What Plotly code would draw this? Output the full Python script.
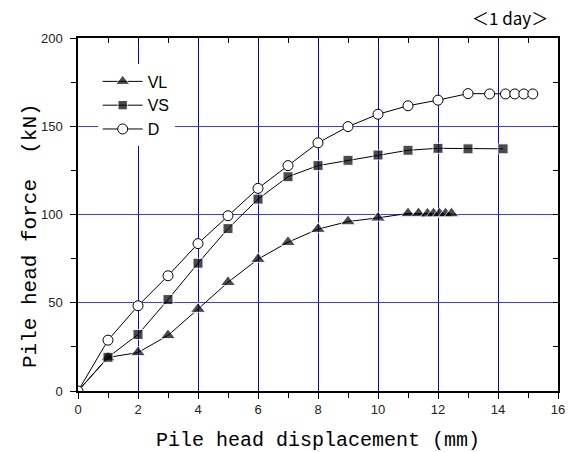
import plotly.graph_objects as go

# ---- data ----
vl_x = [0, 1, 2, 3, 4, 5, 6, 7, 8, 9, 10, 11, 11.35, 11.65, 11.85, 12.05, 12.25, 12.45]
vl_y = [0, 19.0, 21.8, 31.5, 46.4, 61.6, 74.7, 84.3, 91.7, 96.0, 98.1, 100.6, 100.6, 100.4, 100.5, 100.5, 100.5, 100.5]

vs_x = [0, 1, 2, 3, 4, 5, 6, 7, 8, 9, 10, 11, 12, 13, 14.17]
vs_y = [0, 19.1, 32.0, 51.8, 72.4, 92.0, 108.7, 121.4, 127.7, 130.7, 133.7, 136.4, 137.5, 137.2, 137.2]

d_x = [0, 1, 2, 3, 4, 5, 6, 7, 8, 9, 10, 11, 12, 13, 13.72, 14.25, 14.56, 14.86, 15.16]
d_y = [0, 28.8, 48.3, 65.3, 83.5, 99.3, 114.8, 127.7, 140.6, 149.8, 156.8, 161.6, 164.8, 168.5, 168.3, 168.3, 168.3, 168.3, 168.3]

x_range = [0, 16]
y_range = [0, 200]

series = [
    ("VL", vl_x, vl_y, dict(symbol="triangle-up", size=13, color="black")),
    ("VS", vs_x, vs_y, dict(symbol="square", size=10, color="black")),
    ("D", d_x, d_y, dict(symbol="circle", size=10, color="white", line=dict(width=1, color="black"))),
]

fig = go.Figure()
for name, xs, ys, mk in series:
    m = dict(mk)
    if name != "D":
        m["size"] = [0] + [mk["size"]] * (len(xs) - 1)
    fig.add_trace(go.Scatter(x=xs, y=ys, name=name, mode="lines+markers",
                             line=dict(color="black", width=1), marker=m))

# empty trace so the mirrored inside-tick axes get drawn
fig.add_trace(go.Scatter(x=[], y=[], xaxis="x2", yaxis="y2", showlegend=False, hoverinfo="skip"))

tickfont = dict(family="Liberation Sans, Arial, sans-serif", size=13, color="#222")
titlefont = dict(family="Liberation Mono, DejaVu Sans Mono, monospace", size=20, color="black")

fig.update_layout(
    width=568, height=452,
    margin=dict(l=78, r=10, t=38, b=61),
    paper_bgcolor="white", plot_bgcolor="white",
    showlegend=True,
    legend=dict(x=0.041, y=0.925, xanchor="left", yanchor="top",
                bgcolor="white", borderwidth=0,
                font=dict(family="Liberation Sans, Arial, sans-serif", size=16, color="black"),
                tracegroupgap=0, itemwidth=40),
    xaxis=dict(range=x_range, tickmode="linear", tick0=0, dtick=2, automargin=False,
               ticks="outside", ticklen=6, tickcolor="black",
               minor=dict(tickmode="linear", dtick=1, ticks="outside", ticklen=5,
                          tickcolor="black", showgrid=False),
               showgrid=True, gridcolor="#0000ff", gridwidth=1, zeroline=False,
               showline=True, linecolor="black", linewidth=1.5, mirror=True,
               tickfont=tickfont,
               title=dict(text="Pile head displacement (mm)", font=titlefont, standoff=16)),
    yaxis=dict(range=y_range, tickmode="linear", tick0=0, dtick=50, automargin=False,
               ticks="outside", ticklen=6, tickcolor="black",
               minor=dict(tickmode="linear", dtick=25, ticks="outside", ticklen=5,
                          tickcolor="black", showgrid=False),
               showgrid=True, gridcolor="#3a3aff", gridwidth=1, zeroline=False,
               showline=True, linecolor="black", linewidth=1.5, mirror=True,
               tickfont=tickfont, ticklabelstandoff=5),
    xaxis2=dict(range=x_range, overlaying="x", side="top", anchor="y2", automargin=False,
                tickmode="linear", tick0=0, dtick=1, ticks="inside", ticklen=5, tickcolor="black",
                showticklabels=False, showgrid=False, gridcolor="rgba(0,0,0,0)",
                zeroline=False, showline=False),
    yaxis2=dict(range=y_range, overlaying="y", side="right", anchor="x2", automargin=False,
                tickmode="linear", tick0=0, dtick=25, ticks="inside", ticklen=5, tickcolor="black",
                showticklabels=False, showgrid=False, gridcolor="rgba(0,0,0,0)",
                zeroline=False, showline=False),
    annotations=[
        dict(text="＜1 day＞", xref="paper", yref="paper", x=0.983, y=1.017,
             xanchor="right", yanchor="bottom", showarrow=False,
             font=dict(family="Noto Sans CJK KR, sans-serif", size=17, color="black")),
        dict(text="Pile head force  (kN)", xref="paper", yref="paper", x=-0.1, y=0.439,
             xanchor="center", yanchor="middle", textangle=-90, showarrow=False,
             font=dict(family="Liberation Mono, DejaVu Sans Mono, monospace", size=21, color="black")),
    ],
)

fig.write_html("out.html", config={"displayModeBar": False},
               post_script="document.body.style.margin='0';")
